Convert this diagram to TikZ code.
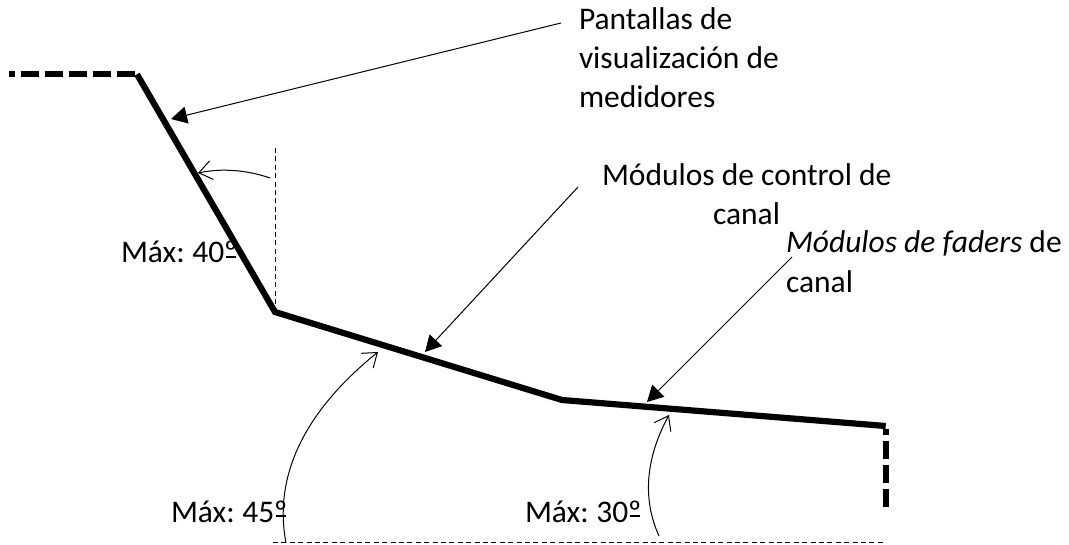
\documentclass[tikz,border=0pt]{standalone}
\usepackage{fontspec}
\setmainfont{Carlito}
\usetikzlibrary{arrows.meta}
\newcommand{\ordbar}{\ooalign{º\cr\hidewidth\rule[0.16em]{0.32em}{0.055em}\hidewidth\cr}}
\tikzset{
  panel/.style={line width=6.2pt,line cap=butt,line join=miter,black},
  paneldash/.style={line width=6.2pt,dash pattern=on 18pt off 6pt,black},
  guide/.style={line width=0.8pt,dash pattern=on 5pt off 3.4pt,black},
  leader/.style={line width=1pt,black,-{Triangle[length=16pt,width=17pt]}},
  anglearc/.style={line width=1pt,black,-{Straight Barb[length=13pt,width=19pt,line width=1pt]}},
  lbl/.style={anchor=base west,inner sep=0pt,outer sep=0pt,font=\fontsize{31.5}{40}\selectfont,text=black},
}
\begin{document}
\begin{tikzpicture}[x=1pt,y=-1pt]
\useasboundingbox (0,0) rectangle (1069,545);
\coordinate (a0) at (9,74.3);
\coordinate (a1) at (137,74.3);
\coordinate (a2) at (275,312);
\coordinate (a3) at (562,400);
\coordinate (a4) at (885.7,426);
\coordinate (a4b) at (885.7,429);
\coordinate (a5) at (885.7,507);
\draw[panel] (a1) -- (a2) -- (a3) -- (a4);
\draw[paneldash,dash phase=12pt] (a0) -- (a1);
\draw[paneldash,dash phase=12.5pt] (a4b) -- (a5);
% guides
\coordinate (v0) at (275.5,148);
\coordinate (v1) at (275.5,310);
\coordinate (h0) at (273,542);
\coordinate (h1) at (886,542);
\draw[guide] (v0) -- (v1);
\draw[guide] (h0) -- (h1);
% leaders
\coordinate (l1s) at (561,23);
\coordinate (l1e) at (171,119);
\coordinate (l2s) at (578,187);
\coordinate (l2e) at (425,352);
\coordinate (l3s) at (792,257);
\coordinate (l3e) at (647,402);
\draw[leader] (l1s) -- (l1e);
\draw[leader] (l2s) -- (l2e);
\draw[leader] (l3s) -- (l3e);
% angle arcs
\coordinate (r1s) at (270,178);
\coordinate (r1e) at (198,173);
\coordinate (r2s) at (286,543);
\coordinate (r2e) at (378,352);
\coordinate (r3s) at (659,536);
\coordinate (r3e) at (669,415);
\draw[anglearc] (r1s) .. controls (247,170) and (222,168) .. (r1e);
\draw[anglearc] (r2s) .. controls (274,480) and (300,415) .. (r2e);
\draw[anglearc] (r3s) .. controls (645,505) and (642,465) .. (r3e);
% labels
\node[lbl] (t1a) at (579,30) {Pantallas de};
\node[lbl] (t1b) at (579,69) {visualización de};
\node[lbl] (t1c) at (579,108) {medidores};
\node[lbl] (t2a) at (602,186) {Módulos de control de};
\node[lbl] (t2b) at (713,225) {canal};
\node[lbl] (t3a) at (786,253) {\itshape Módulos de faders\/\upshape{} de};
\node[lbl] (t3b) at (786,293) {canal};
\node[lbl] (m40) at (121,263) {Máx: \kern-2pt 40\ordbar};
\node[lbl] (m45) at (171,522) {Máx: \kern-2pt 45\ordbar};
\node[lbl] (m30) at (525,522) {Máx: \kern-2pt 30\ordbar};
\end{tikzpicture}
\end{document}
